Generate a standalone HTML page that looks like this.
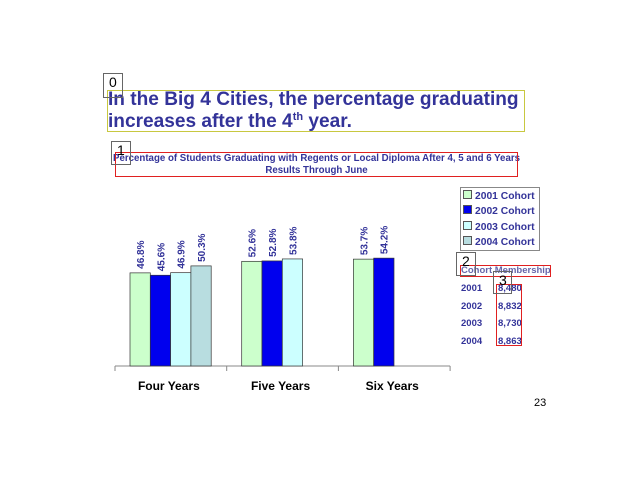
<!DOCTYPE html>
<html><head><meta charset="utf-8"><style>
body{margin:0;width:640px;height:480px;background:#fff;position:relative;overflow:hidden;font-family:"Liberation Sans",sans-serif}
.a{position:absolute}
.lbl{font-weight:bold;color:#333399}
</style></head><body>
<div class="a lbl" style="left:108px;top:89px;font-size:19.1px;line-height:22px;color:#333399">In the Big 4 Cities, the percentage graduating<br>increases after the 4<sup style="font-size:11px;vertical-align:7px;line-height:0">th</sup> year.</div>
<div class="a lbl" style="left:110px;top:153px;width:413px;text-align:center;font-size:9.7px;line-height:11.5px;white-space:nowrap">Percentage of Students Graduating with Regents or Local Diploma After 4, 5 and 6 Years<br>Results Through June</div>
<svg class="a" style="left:0;top:0" width="640" height="480" id="chart"></svg>
<div class="a" style="left:460px;top:187px;width:80px;height:64px;border:1px solid #888;box-sizing:border-box"></div>
<div id="legend"></div>
<div class="a lbl" style="left:461px;top:265px;font-size:9.5px;color:#6666aa">Cohort Membership</div>
<div id="tbl"></div>
<div class="a" style="left:534px;top:397px;font-size:11px">23</div>
<div class="a" style="left:107px;top:90px;width:418px;height:42px;border:1.5px solid #c8c840;box-sizing:border-box"></div>
<div class="a" style="left:103px;top:73px;width:20px;height:25px;border:1px solid #666;box-sizing:border-box;font-size:14px;padding-left:5px">0</div>
<div class="a" style="left:115px;top:152px;width:403px;height:25px;border:1.5px solid #e02020;box-sizing:border-box"></div>
<div class="a" style="left:111px;top:141px;width:20px;height:24px;border:1px solid #666;box-sizing:border-box;font-size:14px;padding-left:5px">1</div>
<div class="a" style="left:460px;top:265px;width:91px;height:12px;border:1.5px solid #e02020;box-sizing:border-box"></div>
<div class="a" style="left:456px;top:252px;width:20px;height:24px;border:1px solid #666;box-sizing:border-box;font-size:14px;padding-left:5px">2</div>
<div class="a" style="left:496px;top:284px;width:26px;height:62px;border:1.5px solid #e02020;box-sizing:border-box"></div>
<div class="a" style="left:493px;top:271px;width:19px;height:23px;border:1px solid #666;box-sizing:border-box;font-size:14px;padding-left:5px">3</div>
<script>
const categories=["Four Years","Five Years","Six Years"];
const series=["2001 Cohort","2002 Cohort","2003 Cohort","2004 Cohort"];
const colors=["#ccffcc","#0000ee","#ccffff","#b8dde0"];
const values=[[46.8,45.6,46.9,50.3],[52.6,52.8,53.8,null],[53.7,54.2,null,null]];
const years=["2001","2002","2003","2004"];
const members=["8,480","8,832","8,730","8,863"];
const svg=document.getElementById('chart');const NS="http://www.w3.org/2000/svg";
const x0=115,gw=111.7,base=366,sc=1.99;
const yv=v=>base-v*sc;
function mk(t,a){const e=document.createElementNS(NS,t);for(const k in a)e.setAttribute(k,a[k]);svg.appendChild(e);return e;}
const ax=mk('line',{x1:x0,y1:base,x2:x0+3*gw,y2:base,stroke:'#888'});


for(let i=0;i<=3;i++){const t=mk('line',{x1:x0+i*gw,y1:base,x2:x0+i*gw,y2:base+5,stroke:'#888'});

}
categories.forEach((c,i)=>{
 const t=mk('text',{x:x0+i*gw+gw/2-2,y:base+24,'text-anchor':'middle','font-size':'12','font-weight':'bold','font-family':'Liberation Sans'});t.textContent=c;
 
 
 values[i].forEach((v,j)=>{if(v==null)return;
  const bx=x0+i*gw+15+j*20.3;
  const r=mk('rect',{x:bx,y:yv(v),width:20.3,height:v*sc,fill:colors[j],stroke:'#333','stroke-width':'0.7'});
  
  
  const l=mk('text',{x:0,y:0,transform:`translate(${bx+14},${yv(v)-4}) rotate(-90)`,'font-size':'10','font-weight':'bold',fill:'#333399','font-family':'Liberation Sans'});l.textContent=v.toFixed(1)+'%';
  
  
 });
});
const lg=document.getElementById('legend');
series.forEach((s,j)=>{const d=document.createElement('div');d.className='a lbl';d.style.cssText=`left:463px;top:${190+j*15.3}px;font-size:10.3px;white-space:nowrap`;
 d.innerHTML=`<span style="display:inline-block;width:7px;height:7px;background:${colors[j]};border:1px solid #555;margin-right:3px"></span>${s}`;
 
 
 lg.appendChild(d);});
const tb=document.getElementById('tbl');
years.forEach((y,j)=>{const d=document.createElement('div');d.className='a lbl';d.style.cssText=`left:461px;top:${283+j*17.5}px;font-size:9.5px;white-space:nowrap`;
 d.innerHTML=`${y}<span style="position:absolute;left:37px">${members[j]}</span>`;
 
 
 tb.appendChild(d);});
</script>
</body></html>
